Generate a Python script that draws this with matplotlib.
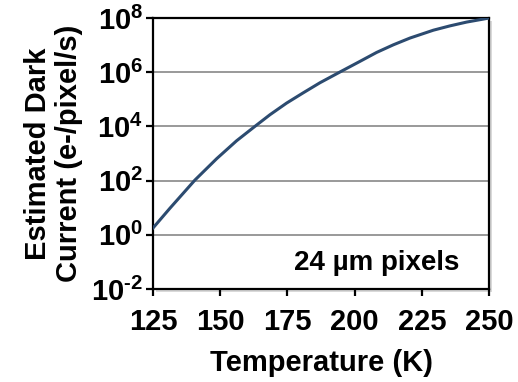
import matplotlib
matplotlib.use("Agg")
import matplotlib.pyplot as plt
from matplotlib.patches import Rectangle

# values (temperature in K, log10 of dark current)
temperature = [125, 131.3, 140.6, 148.7, 156.1, 162.9, 168.5, 174.7, 180.9,
               187.1, 194.6, 202.0, 208.2, 214.4, 220.6, 229.3, 235.5,
               241.7, 247.9, 250]
log_current = [0.25, 0.98, 2.02, 2.81, 3.47, 4.0, 4.43, 4.86, 5.24,
               5.61, 6.01, 6.40, 6.73, 7.01, 7.26, 7.55, 7.71,
               7.85, 7.96, 8.0]
dark_current = [10 ** v for v in log_current]

x_ticks = [125, 150, 175, 200, 225, 250]
y_exponents = [-2, 0, 2, 4, 6, 8]

plt.rcParams['font.family'] = ['Liberation Sans', 'DejaVu Sans']
plt.rcParams['font.weight'] = 'bold'
plt.rcParams['mathtext.fontset'] = 'custom'
plt.rcParams['mathtext.rm'] = 'Liberation Sans:bold'
plt.rcParams['mathtext.bf'] = 'Liberation Sans:bold'
plt.rcParams['mathtext.default'] = 'rm'

fig = plt.figure(figsize=(5.18, 3.82), dpi=100)
ax = fig.add_axes([153 / 518, 1 - 289 / 382, 336 / 518, 271 / 382])

# soft drop shadow like the original
shadow = Rectangle((156 / 518, 1 - 292 / 382), 336 / 518, 271 / 382,
                   transform=fig.transFigure, facecolor='#d9d9d9',
                   edgecolor='none', zorder=0)
fig.patches.append(shadow)
ax.set_zorder(1)

ax.plot(temperature, dark_current, color='#2c4b70', linewidth=2.2,
        solid_joinstyle='round', zorder=3)

ax.set_yscale('log')
ax.set_xlim(125, 250)
ax.set_ylim(1e-2, 1e8)
ax.set_xticks(x_ticks)
ax.set_xticklabels([str(t) for t in x_ticks])
ax.set_yticks([10.0 ** e for e in y_exponents])
ax.set_yticklabels(['$10^{\\text{%d}}$' % e for e in y_exponents])
ax.minorticks_off()

ax.grid(axis='y', color='#999999', linewidth=1.4)
ax.set_axisbelow(True)
for side in ax.spines.values():
    side.set_linewidth(1.6)
    side.set_color('black')

ax.tick_params(axis='both', direction='out', length=5, width=1.6,
               labelsize=21, pad=2)
ax.tick_params(axis='x', pad=9)

ax.set_xlabel('Temperature (K)', fontsize=21, fontweight='bold', labelpad=9)
ax.set_ylabel('Estimated Dark\nCurrent (e-/pixel/s)', fontsize=21,
              fontweight='bold', labelpad=6, linespacing=1.15)

ax.text(0.665, 0.096, '24 µm pixels', transform=ax.transAxes,
        ha='center', va='center', fontsize=20, fontweight='bold')

fig.savefig('out.png', dpi=100)
